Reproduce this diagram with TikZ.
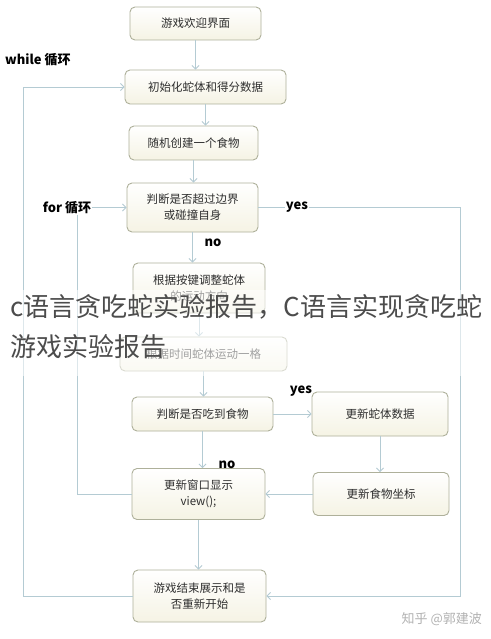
\documentclass[tikz,border=0pt]{standalone}
\usepackage{fontspec}
\setmainfont{Noto Sans CJK SC}
\usepackage{tikz}
\usetikzlibrary{arrows.meta}
\definecolor{boxline}{HTML}{AEB09A}
\definecolor{boxfoot}{HTML}{F5F3E4}
\definecolor{flowline}{HTML}{B4CBD3}
\tikzset{box/.style={draw=boxline, line width=0.9pt, rounded corners=5pt, top color=white, bottom color=boxfoot,
  text=black!82, font=\fontsize{11.5}{16}\selectfont, align=center, inner sep=0pt},
%arrows between the boxes
flow/.style={draw=flowline, line width=0.9pt, -{Straight Barb[length=3.5pt,width=7pt]}},
tag/.style={font=\bfseries\fontsize{13}{15}\selectfont, fill=white, inner sep=1pt}}

\begin{document}
\begin{tikzpicture}[x=1pt,y=-1pt]
\useasboundingbox[fill=white] (0,0) rectangle (490,639);
%\draw [help lines,step=50] (0,0) grid (490,639);
% main column
\node[box, minimum width=131, minimum height=33] (welcome) at (195.5,23.5) {游戏欢迎界面};
\node[box, minimum width=161, minimum height=34] (init) at (205.5,87) {初始化蛇体和得分数据};
\node[box, minimum width=129, minimum height=34] (food) at (193.5,143) {随机创建一个食物};
\node[box, minimum width=131, minimum height=49] (check) at (192.5,207.5) {判断是否超过边界\\或碰撞自身};
\node[box, minimum width=132, minimum height=50] (keys) at (199,288) {根据按键调整蛇体\\的运动方向};
\node[box, minimum width=167, minimum height=34] (move) at (203.5,354) {根据时间蛇体运动一格};
\node[box, minimum width=141, minimum height=34] (eat) at (202.5,414) {判断是否吃到食物};
\node[box, minimum width=133, minimum height=51] (view) at (198.5,494) {更新窗口显示\\view();};
\node[box, minimum width=133, minimum height=52] (over) at (199.5,596) {游戏结束展示和是\\否重新开始};
% right column
\node[box, minimum width=136, minimum height=44] (grow) at (380,414) {更新蛇体数据};
\node[box, minimum width=136, minimum height=43] (newfood) at (381,494) {更新食物坐标};

%arrows
\foreach \a/\b in {welcome/init,init/food,food/check,check/keys,keys/move,move/eat,eat/view,view/over,grow/newfood}
     \draw[flow] (\a.south) -- (\a.south |- \b.north);
\draw[flow] (eat.east) -- (grow.west |- eat.east);
\draw[flow] (newfood.west) -- (view.east |- newfood.west);

% loops
\coordinate (wl) at (23,596);
\coordinate (fl) at (77,494);
\coordinate (yl) at (460,207.5);
\draw[flow] (over.west) -- (wl) |- (init.west);
\draw[flow] (view.west) -- (fl) |- (check.west);
\draw[flow] (check.east) -- (yl) |- (over.east);

%labels
\node[tag, anchor=west] (while) at (4,60) {while 循环};
\node[tag] (for) at (67,207.5) {for 循环};
\node[tag] (yes1) at (297,207.5) {yes};
\node[tag, fill=none] (no1) at (213,243) {no};
\node[tag, fill=none] (yes2) at (301,391) {yes};
\node[tag, fill=none] (no2) at (227,465) {no};

% page overlay
\fill[white, opacity=0.55] (0,290) rectangle (490,376);
\node[anchor=west, text=black!70, font=\fontsize{26}{40}\selectfont, align=left, inner sep=0pt] (title) at (10,327)
     {c语言贪吃蛇实验报告，C语言实现贪吃蛇\\游戏实验报告};
\node[anchor=east, text=black!30, font=\fontsize{13}{15}\selectfont, inner sep=0pt] (mark) at (482,619) {知乎 @郭建波};
\end{tikzpicture}
\end{document}
